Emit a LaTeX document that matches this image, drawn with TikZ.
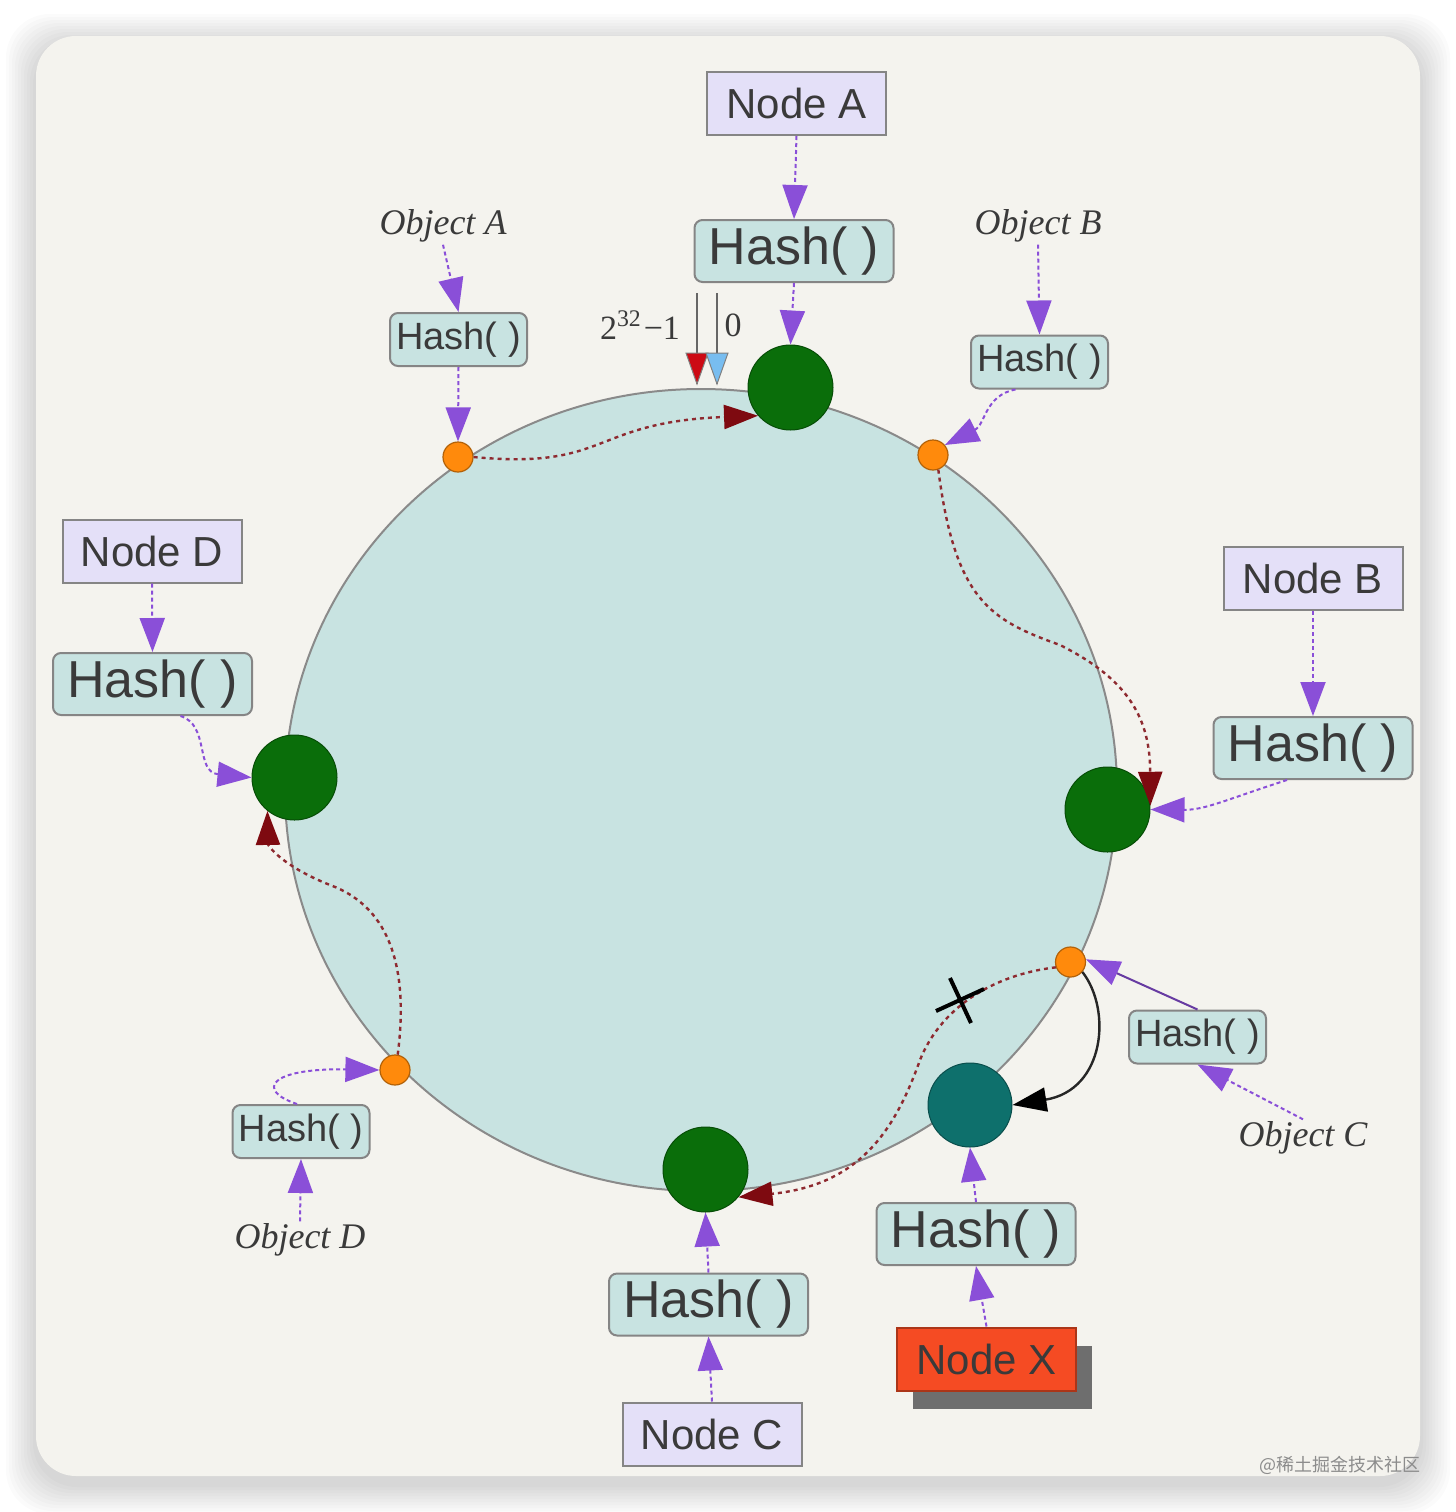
\documentclass[tikz,border=0pt]{standalone}
\usepackage{fontspec}
\setmainfont{Liberation Serif}
\setsansfont{Liberation Sans}
\newfontfamily\cjkfont{Noto Sans CJK SC}
\usetikzlibrary{arrows.meta,shadows}
\definecolor{cardbg}{HTML}{F4F3EE}
\definecolor{ringfill}{HTML}{C8E3E1}
\definecolor{ringline}{HTML}{8A8A8A}
\definecolor{hashfill}{HTML}{C8E3E1}
\definecolor{boxline}{HTML}{858585}
\definecolor{lavender}{HTML}{E4E0F8}
\definecolor{txt}{HTML}{3A3A3A}
\definecolor{nodegreen}{HTML}{0A6E0A}
\definecolor{tealc}{HTML}{0E706C}
\definecolor{orangec}{HTML}{FF8A0C}
\definecolor{purp}{HTML}{8A4FD8}
\definecolor{darkred}{HTML}{7E0A10}
\definecolor{redline}{HTML}{8E2A30}
\definecolor{nodexred}{HTML}{F54B23}
\definecolor{shadowgray}{HTML}{6E6E6E}
\definecolor{markred}{HTML}{CC0A14}
\definecolor{markblue}{HTML}{78BDF0}
\begin{document}
\begin{tikzpicture}[x=0.5pt,y=-0.5pt,
 nodebox/.style={draw=boxline, fill=lavender, line width=1pt, minimum width=89.5pt, minimum height=31.5pt, inner sep=0pt, font=\sffamily\fontsize{21}{21}\selectfont, text=txt},
 hashbig/.style={draw=boxline, fill=hashfill, rounded corners=4pt, line width=1pt, minimum width=99.5pt, minimum height=31pt, inner sep=0pt, font=\sffamily\fontsize{26}{26}\selectfont, text=txt},
 hashsmall/.style={draw=boxline, fill=hashfill, rounded corners=4pt, line width=1pt, minimum width=68.5pt, minimum height=26.5pt, inner sep=0pt, font=\sffamily\fontsize{19}{19}\selectfont, text=txt},
 objlabel/.style={font=\rmfamily\itshape\fontsize{18}{18}\selectfont, text=txt, inner sep=1pt},
 greennode/.style={circle, fill=nodegreen, draw=nodegreen!70!black, line width=0.5pt, minimum size=42.5pt, inner sep=0pt},
 tealnode/.style={circle, fill=tealc, draw=tealc!70!black, line width=0.5pt, minimum size=42pt, inner sep=0pt},
 objpt/.style={circle, fill=orangec, draw=orangec!70!black, line width=0.6pt, minimum size=15pt, inner sep=0pt},
 parrow/.style={draw=purp, line width=1pt, dash pattern=on 2pt off 1.5pt, -{Triangle[length=17pt,width=12.5pt]}},
 psolid/.style={draw=purp!75!black, line width=1pt, -{Triangle[length=17pt,width=12.5pt,color=purp]}},
 rarrow/.style={draw=redline, line width=1.2pt, dash pattern=on 2pt off 2pt, -{Triangle[length=17pt,width=12pt,color=darkred]}},
 barrow/.style={draw=black!85, line width=1.2pt, -{Triangle[length=17pt,width=12pt,color=black]}}
]
\useasboundingbox (0,0) rectangle (1456,1512);
\fill[white] (0,0) rectangle (1456,1512);
% card shadow
\foreach \s in {30,27,...,3}
  \fill[black, opacity=0.016, rounded corners=22pt] (36-\s,36-\s+8) rectangle (1420+\s,1476+\s+8);
\fill[cardbg, rounded corners=20pt] (36,36) rectangle (1420,1476);

% ring
\draw[ringline, fill=ringfill, line width=1pt] (701,790) ellipse [x radius=208pt, y radius=200.5pt];

% markers 2^32-1 and 0
\draw[black!60, line width=0.8pt] (697,293) -- (697,384);
\draw[black!60, line width=0.8pt] (717,293) -- (717,384);
\filldraw[fill=markred, draw=black!50, line width=0.5pt] (686,353) -- (708,353) -- (697,384) -- cycle;
\filldraw[fill=markblue, draw=black!50, line width=0.5pt] (706,353) -- (728,353) -- (717,384) -- cycle;
\node[font=\rmfamily\fontsize{17}{17}\selectfont, text=txt, inner sep=0pt] (lmax) at (640,325) {2\textsuperscript{32}\kern1pt−1};
\node[font=\rmfamily\fontsize{17}{17}\selectfont, text=txt, inner sep=0pt] (lzero) at (733,325) {0};

% Nodes (servers)
\node[nodebox] (nA) at (796.5,103.5) {Node A};
\node[nodebox] (nB) at (1313,578.5) {Node B};
\node[nodebox] (nC) at (712,1434) {Node C};
\node[nodebox] (nD) at (152,551) {Node D};
\node[nodebox, fill=nodexred, draw=nodexred!70!black, drop shadow={shadow xshift=8pt, shadow yshift=-9pt, fill=shadowgray, opacity=1}] (nX) at (986.5,1359) {Node X};

\node[hashbig] (hA) at (794,251) {Hash( )};
\node[hashbig] (hB) at (1313,748) {Hash( )};
\node[hashbig] (hC) at (708.5,1304.5) {Hash( )};
\node[hashbig] (hD) at (152.5,684) {Hash( )};
\node[hashbig] (hX) at (976,1234) {Hash( )};

\node[greennode] (gA) at (790.5,387.5) {};
\node[greennode] (gB) at (1107.5,809.5) {};
\node[greennode] (gC) at (705.5,1169.5) {};
\node[greennode] (gD) at (294.5,777.5) {};
\node[tealnode] (tX) at (970,1105) {};

% objects
\node[objlabel] (objA) at (443,226) {Object A};
\node[objlabel] (objB) at (1038,226) {Object B};
\node[objlabel] (objC) at (1303,1138) {Object C};
\node[objlabel] (objD) at (300,1240) {Object D};

\node[hashsmall] (sA) at (458.5,339.5) {Hash( )};
\node[hashsmall] (sB) at (1039.5,362) {Hash( )};
\node[hashsmall] (sC) at (1197.5,1037) {Hash( )};
\node[hashsmall] (sD) at (301,1131.5) {Hash( )};

\node[objpt] (oA) at (458,457) {};
\node[objpt] (oB) at (933,455) {};
\node[objpt] (oC) at (1070.5,962) {};
\node[objpt] (oD) at (395,1070) {};

% purple arrows: nodes
\draw[parrow] (nA.south) -- (hA.north);
\draw[parrow] (hA.south) -- (gA.north);
\draw[parrow] (nB.south) -- (hB.north);
\draw[parrow] ([xshift=-13pt]hB.south) .. controls (1225,800) and (1205,810) .. (gB.east);
\draw[parrow] (nD.south) -- (hD.north);
\draw[parrow] ([xshift=14pt]hD.south) .. controls (210,725) and (195,772) .. (gD.west);
\draw[parrow] (nC.north) -- (hC.south);
\draw[parrow] (hC.north) -- (gC.south);
\draw[parrow] (nX.north) -- (hX.south);
\draw[parrow] (hX.north) -- (tX.south);

% purple arrows: objects
\draw[parrow] (objA.south) -- (sA.north);
\draw[parrow] (sA.south) -- (oA.north);
\draw[parrow] (objB.south) -- (sB.north);
\draw[parrow] ([xshift=-12pt]sB.south) .. controls (985,395) and (985,425) .. (oB.40);
\draw[parrow] (objD.north) -- (sD.south);
\draw[parrow] ([xshift=-2pt]sD.north) .. controls (255,1090) and (270,1068) .. (oD.west);
\draw[parrow] (objC.north) -- (sC.south);
\draw[psolid] (sC.north) -- (oC.10);

% dark red dotted assignments
\draw[rarrow] (oA.east) .. controls (610,470) and (590,422) .. (gA.221);
\draw[rarrow] (oB.-70) .. controls (955,600) and (990,620) .. (1060,645) .. controls (1130,680) and (1150,720) .. (gB.5);
\draw[rarrow] (oD.80) .. controls (410,960) and (385,905) .. (330,885) .. controls (280,865) and (268,845) .. (gD.231);
\draw[rarrow] (oC.200) .. controls (990,975) and (940,1010) .. (920,1060) .. controls (895,1130) and (860,1185) .. (gC.-40);

% black reassignment arrow
\draw[barrow] (oC.-40) .. controls (1112,1010) and (1105,1090) .. (tX.east);

% X mark
\coordinate (xm) at (960,1000);
\draw[black, line width=2pt] (936,1011) -- (984,989);
\draw[black, line width=2pt] (950,978) -- (971,1023);

% watermark
\node[font=\cjkfont\fontsize{9}{9}\selectfont, text=black!45, inner sep=0pt] (wm) at (1340,1465) {@稀土掘金技术社区};
\end{tikzpicture}
\end{document}
